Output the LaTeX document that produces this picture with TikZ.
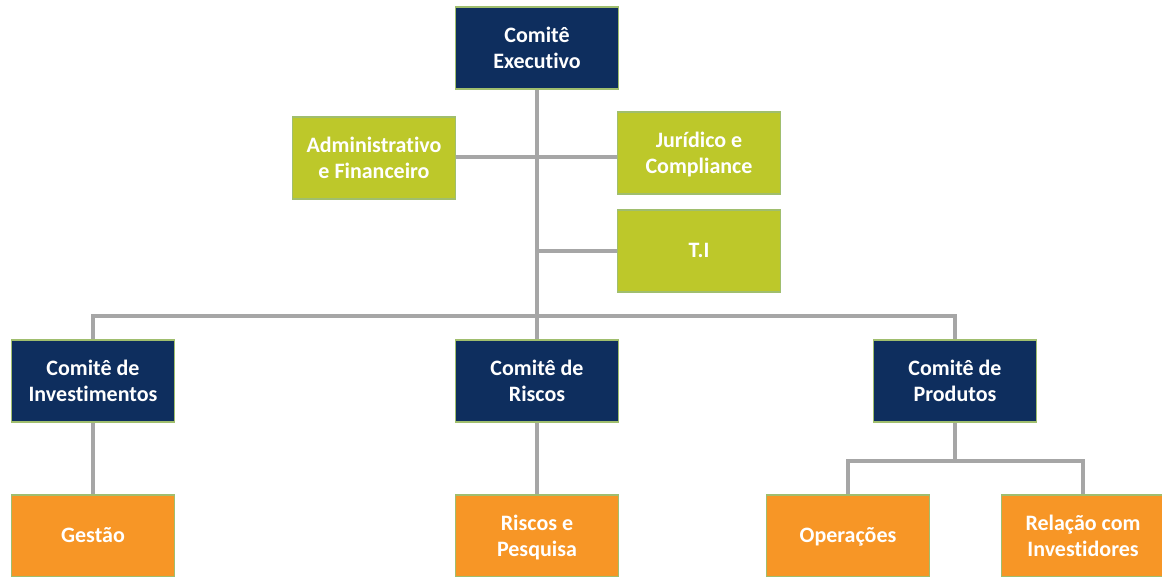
\documentclass[tikz,border=0pt]{standalone}
\usepackage{fontspec}
\setmainfont[Ligatures=NoCommon,RawFeature=-liga]{Carlito}
\usetikzlibrary{positioning}
\definecolor{orgnavy}{RGB}{14,46,94}
\definecolor{orggreen}{RGB}{189,200,42}
\definecolor{orgorange}{RGB}{247,150,38}
\definecolor{orgedge}{RGB}{160,190,110}
\definecolor{orgline}{RGB}{166,166,166}
\tikzstyle{caixa} = [rectangle, minimum width=122pt, minimum height=61.5pt, inner sep=2pt, align=center, text=white, font=\fontsize{16.5}{19.5}\selectfont\bfseries, draw=orgedge, line width=0.8pt, text depth=1pt]
\tikzstyle{comite} = [caixa, fill=orgnavy]
\tikzstyle{apoio} = [caixa, fill=orggreen]
\tikzstyle{area} = [caixa, fill=orgorange]
\tikzstyle{linha} = [line width=3pt, color=orgline]

\begin{document}
\begin{tikzpicture}[x=0.75pt, y=0.75pt]
\useasboundingbox (0,0) rectangle (1162,-577);
\clip (0,0) rectangle (1162,-577);
% Connections
\coordinate (bus) at (537,-316);
\coordinate (bus2) at (955,-461);

% Top level
\node[comite] (exec) at (537,-48) {Comitê\\Executivo};
\node[apoio] (adm) at (374,-158) {Administrativo\\e Financeiro};
\node[apoio] (jur) at (699,-153) {Jurídico e\\Compliance};
\node[apoio] (ti) at (699,-251) {T.I};

% Committees
\node[comite] (inv) at (93,-381) {Comitê de\\Investimentos};
\node[comite] (risc) at (537,-381) {Comitê de\\Riscos};
\node[comite] (prod) at (955,-381) {Comitê de\\Produtos};

% Areas
\node[area] (gest) at (93,-536) {Gestão};
\node[area] (pesq) at (537,-536) {Riscos e\\Pesquisa};
\node[area] (oper) at (848,-536) {Operações};
\node[area] (rel) at (1083,-536) {Relação com\\Investidores};

% Lines
\draw[linha] (exec) -- (risc);
\draw[linha] (adm.east |- 0,-157) -- (jur.west |- 0,-157);
\draw[linha] (exec.south |- ti.west) -- (ti.west);
\draw[linha] (inv.north) |- (bus) -| (prod.north);
\draw[linha] (inv) -- (gest);
\draw[linha] (risc) -- (pesq);
\draw[linha] (prod.south) -- (bus2);
\draw[linha] (oper.north) |- (bus2) -| (rel.north);
\end{tikzpicture}
\end{document}
